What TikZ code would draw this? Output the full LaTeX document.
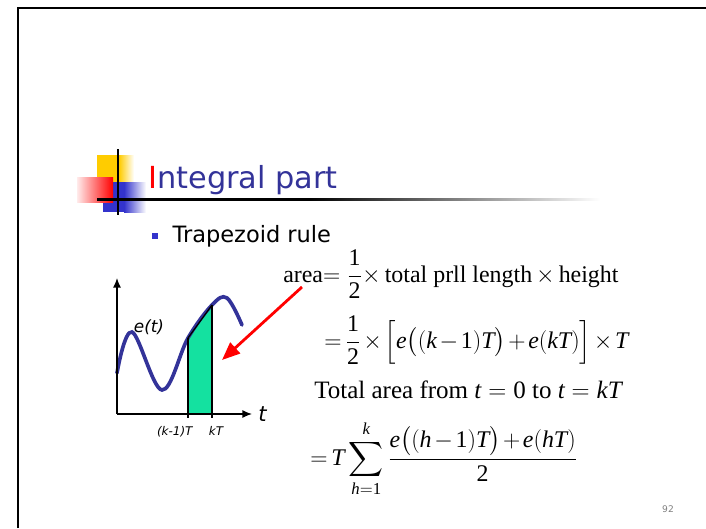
\documentclass[tikz,border=0pt]{standalone}
\RequirePackage{fix-cm}
\usepackage{amsmath}
\usepackage{mathspec}
\setmainfont{Liberation Serif}
\setmathsfont(Digits,Latin){Liberation Serif}
\newfontfamily\slidefont{DejaVu Sans}
\usepackage{tikz}
\usetikzlibrary{arrows.meta, positioning}

\definecolor{titleblue}{RGB}{51,51,153}
\definecolor{bulletblue}{RGB}{51,51,204}
\definecolor{curveblue}{RGB}{51,51,153}
\definecolor{decoyellow}{RGB}{255,204,0}
\definecolor{decoblue}{RGB}{51,51,204}
\definecolor{areagreen}{RGB}{20,225,160}

\begin{document}
\begin{tikzpicture}[
    x=0.025cm, y=-0.025cm,
    slide/.style={font=\slidefont, inner sep=0pt, anchor=base west},
    formula/.style={font=\fontsize{17}{20}\selectfont, inner sep=0pt, anchor=base west},
    tight/.style={execute at begin node={\medmuskip=2mu\thickmuskip=3mu}},
    axis/.style={-{Latex[length=2.4mm, width=2mm]}, line width=0.9pt},
    tickline/.style={line width=0.9pt},
    curve/.style={line width=2.6pt, curveblue, line cap=round},
    pointer/.style={-{Triangle[length=4.5mm, width=3.6mm]}, line width=2pt, red}
]
  \useasboundingbox (0,0) rectangle (706,528);

  % slide frame
  \draw[line width=2pt] (18,528) -- (18,8) -- (706,8);

  % title decoration
  \fill[decoyellow] (97,155) rectangle (119,185);
  \shade[left color=decoyellow, right color=white] (119,155) rectangle (134,185);
  \fill[decoblue] (103,182) rectangle (124,212);
  \shade[left color=decoblue, right color=white] (124,182) rectangle (146,212);
  \shade[left color=red!8, right color=red] (77,177) rectangle (113,202);
  \draw[line width=2pt] (118,149) -- (118,215);
  \fill[black] (97,198) rectangle (310,200.5);
  \shade[left color=black, right color=white] (310,198) rectangle (600,200.5);

  \node[slide, font=\slidefont\fontsize{21.6}{26}\selectfont, text=titleblue] (title)
    at (148,188) {\textcolor{red}{I}ntegral part};

  \node[fill=bulletblue, inner sep=0pt, minimum size=0.15cm] (bullet) at (155,236) {};
  \node[slide, font=\slidefont\fontsize{16}{19}\selectfont, right=0.35cm of bullet.east,
        anchor=west] (rule) {Trapezoid rule};

  % graph of e(t)
  \coordinate (origin) at (117,414);
  \coordinate (ytop) at (117,278);
  \coordinate (xend) at (252,414);
  \coordinate (pa) at (188,338);
  \coordinate (pb) at (212,305);

  \fill[areagreen] (188,414) -- (pa) -- (pb) -- (212,414) -- cycle;
  \draw[curve] plot[smooth, tension=0.6] coordinates
    {(117,373) (132,332) (162,390) (pa) (pb) (227,298) (242,325)};
  \draw[tickline] (pa) -- (pb);
  \draw[tickline] (pa) -- (188,418) coordinate (ka);
  \draw[tickline] (pb) -- (212,418) coordinate (kb);
  \draw[axis] (origin) -- (ytop);
  \draw[axis] (origin) -- (xend);

  \node[font=\slidefont\itshape\fontsize{12}{14}\selectfont, inner sep=0pt] (elabel)
    at (149,327) {e(t)};
  \node[font=\slidefont\itshape\fontsize{15}{18}\selectfont, inner sep=0pt,
        right=0.15cm of xend] (tlabel) {t};
  \node[font=\slidefont\itshape\fontsize{8.5}{10}\selectfont, inner sep=0pt,
        below left=0.2cm and -0.12cm of ka] (kalabel) {(k-1)T};
  \node[font=\slidefont\itshape\fontsize{8.5}{10}\selectfont, inner sep=0pt,
        below right=0.2cm and 0.1cm of kb, anchor=north] (kblabel) {kT};

  % trapezoid formulas
  \node[formula] (area) at (283,282)
    {area$=\dfrac{1}{2}\times$\,total prll length\,$\times$\,height};
  \node[formula, tight] (expand) at (324,348)
    {$=\dfrac{1}{2}\times\Bigl[e\bigl((k-1)T\bigr)+e(kT)\Bigr]\times T$};
  \node[formula, font=\fontsize{17.8}{21}\selectfont] (total) at (314,398)
    {Total area from $t=0$ to $t=kT$};
  \node[formula, tight] (sum) at (310,465)
    {$=T\displaystyle\sum_{h=1}^{k}\frac{e\bigl((h-1)T\bigr)+e(hT)}{2}$};

  \coordinate (arrowstart) at (302,287);
  \coordinate (arrowend) at (222,360);
  \draw[pointer] (arrowstart) -- (arrowend);

  \node[font=\slidefont\fontsize{6.5}{8}\selectfont, text=gray] (pagenum) at (668,509) {92};
\end{tikzpicture}
\end{document}
